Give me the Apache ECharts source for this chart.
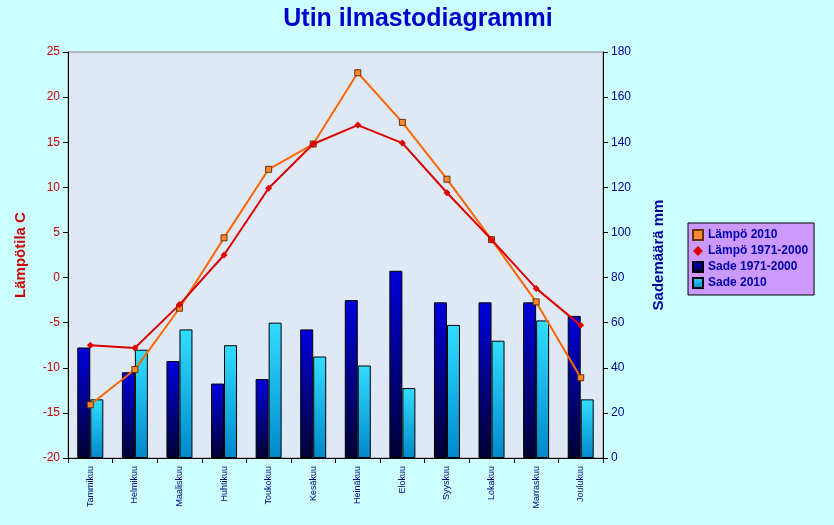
<!DOCTYPE html>
<html><head><meta charset="utf-8">
<script src="https://cdn.jsdelivr.net/npm/echarts@6/dist/echarts.min.js"></script>
<style>html,body{margin:0;background:#ccffff}#c{width:834px;height:525px}</style>
</head><body><div id="c"></div>
<script>
var months = ['Tammikuu','Helmikuu','Maaliskuu','Huhtikuu','Toukokuu','Kesäkuu','Heinäkuu','Elokuu','Syyskuu','Lokakuu','Marraskuu','Joulukuu'];
var temp2010 = [-14.1,-10.2,-3.4,4.4,12.0,14.8,22.7,17.2,10.9,4.2,-2.7,-11.1];
var temp7100 = [-7.5,-7.8,-3.0,2.5,9.9,14.8,16.9,14.9,9.4,4.2,-1.2,-5.3];
var rain7100 = [49,38,43,33,35,57,70,83,69,69,69,63];
var rain2010 = [26,48,57,50,60,45,41,31,59,52,61,26];

var chart = echarts.init(document.getElementById('c'));
function grad(a, b) {
    return new echarts.graphic.LinearGradient(0, 0, 0, 1, [{offset: 0, color: a}, {offset: 1, color: b}]);
}
chart.setOption({
    backgroundColor: '#ccffff',
    animation: false,
    title: {
        text: 'Utin ilmastodiagrammi', left: 413, top: 2, textAlign: 'center',
        textStyle: {color: '#0000cc', fontSize: 25, fontWeight: 'bold', fontFamily: 'Liberation Sans'}
    },
    legend: {
        orient: 'vertical', left: 688, top: 223, padding: [6, 6, 6, 4], itemGap: 4,
        itemWidth: 10, itemHeight: 10,
        backgroundColor: '#cc99ff', borderColor: '#000', borderWidth: 1,
        textStyle: {color: '#0000aa', fontWeight: 'bold', fontSize: 12, fontFamily: 'Liberation Sans'},
        data: [
            {name: 'Lämpö 2010', icon: 'rect'},
            {name: 'Lämpö 1971-2000', icon: 'diamond'},
            {name: 'Sade 1971-2000', icon: 'rect'},
            {name: 'Sade 2010', icon: 'rect'}
        ]
    },
    grid: {left: 68, right: 231, top: 52, bottom: 67, show: true, backgroundColor: '#dfe9f6', borderColor: '#888'},
    xAxis: {
        type: 'category', data: months,
        axisLine: {onZero: false, lineStyle: {color: '#000'}},
        axisTick: {show: true, lineStyle: {color: '#000'}},
        axisLabel: {rotate: 90, fontSize: 9, color: '#000080', fontFamily: 'Liberation Sans', interval: 0}
    },
    yAxis: [
        {
            type: 'value', min: -20, max: 25, interval: 5,
            name: 'Lämpötila C', nameLocation: 'middle', nameGap: 40, nameRotate: 90,
            nameTextStyle: {color: '#cc0000', fontSize: 15, fontWeight: 'bold', fontFamily: 'Liberation Sans'},
            axisLine: {show: true, lineStyle: {color: '#000'}},
            axisTick: {show: true},
            axisLabel: {color: '#cc0000', fontSize: 12, fontFamily: 'Liberation Sans'},
            splitLine: {show: false}
        },
        {
            type: 'value', min: 0, max: 180, interval: 20,
            name: 'Sademäärä mm', nameLocation: 'middle', nameGap: 48, nameRotate: 90,
            nameTextStyle: {color: '#000099', fontSize: 15, fontWeight: 'bold', fontFamily: 'Liberation Sans'},
            axisLine: {show: true, lineStyle: {color: '#000'}},
            axisTick: {show: true},
            axisLabel: {color: '#000099', fontSize: 12, fontFamily: 'Liberation Sans'},
            splitLine: {show: false}
        }
    ],
    series: [
        {
            name: 'Sade 1971-2000', type: 'bar', yAxisIndex: 1, data: rain7100,
            barWidth: 13, barGap: '0%',
            itemStyle: {color: grad('#0000dd', '#000033'), borderColor: '#000', borderWidth: 1}
        },
        {
            name: 'Sade 2010', type: 'bar', yAxisIndex: 1, data: rain2010,
            barWidth: 13,
            itemStyle: {color: grad('#33ddff', '#0088cc'), borderColor: '#000', borderWidth: 1}
        },
        {
            name: 'Lämpö 2010', type: 'line', data: temp2010, z: 5,
            symbol: 'rect', symbolSize: 6,
            lineStyle: {color: '#ff6600', width: 2},
            itemStyle: {color: '#ff8833', borderColor: '#663300', borderWidth: 1}
        },
        {
            name: 'Lämpö 1971-2000', type: 'line', data: temp7100, z: 6,
            symbol: 'diamond', symbolSize: 7,
            lineStyle: {color: '#dd0000', width: 2},
            itemStyle: {color: '#dd0000'}
        }
    ]
});
</script>
</body></html>
